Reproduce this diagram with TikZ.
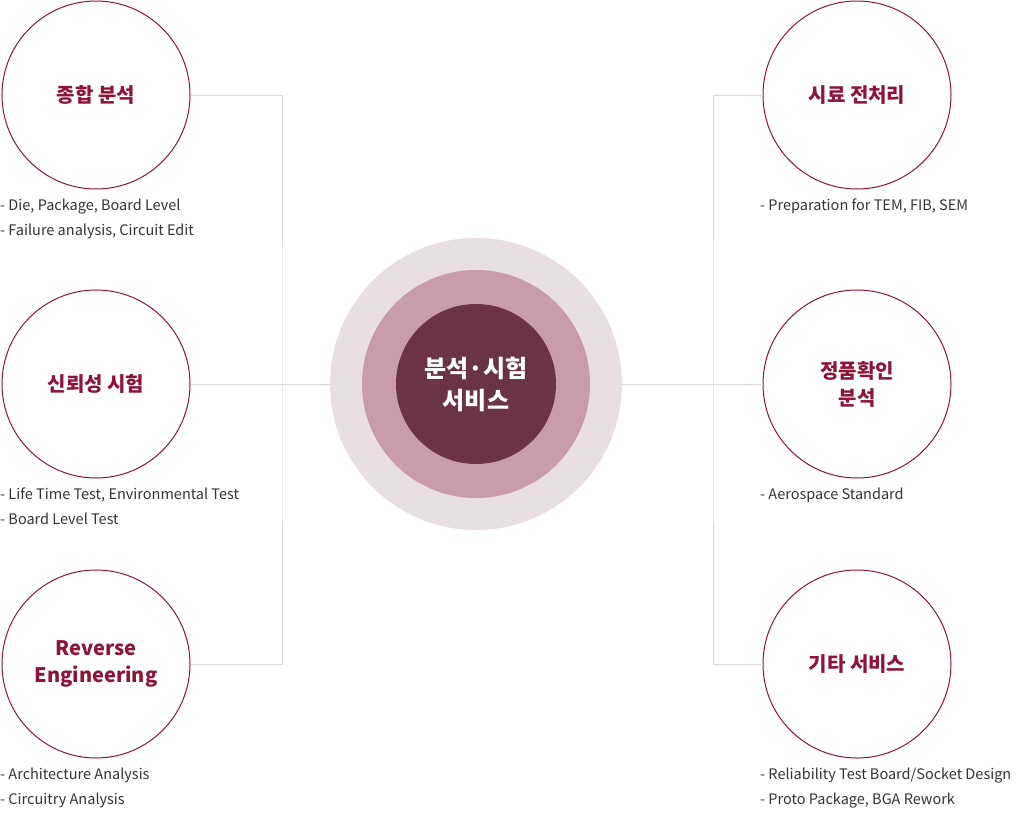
\documentclass[tikz,border=0pt]{standalone}
\usepackage{fontspec}
\setmainfont{Noto Sans CJK KR}
\usetikzlibrary{calc}
\definecolor{wine}{HTML}{8E1538}
\definecolor{ringA}{HTML}{E9DEE2}
\definecolor{ringB}{HTML}{C89CA8}
\definecolor{ringC}{HTML}{6A3444}
\definecolor{linegray}{HTML}{D9D9D9}
\definecolor{txtgray}{HTML}{333333}
\tikzset{
  svc/.style={circle, draw=wine, line width=1pt, minimum size=188pt, inner sep=0pt,
    align=center, text=wine, font=\fontsize{20}{27}\selectfont\bfseries},
  info/.style={anchor=north west, inner sep=0pt, align=left, text=txtgray,
    font=\fontsize{14.5}{25}\selectfont},
  link/.style={draw=linegray, line width=0.8pt}
}
\begin{document}
\begin{tikzpicture}[x=1pt,y=-1pt]
    \useasboundingbox (0,0) rectangle (1029,814);

    % Center
    \fill[ringA] (476,384) circle (146);
    \fill[ringB] (476,384) circle (114);
    \fill[ringC] (476,384) circle (80);
    \node[align=center, text=white, font=\fontsize{24}{32}\selectfont\bfseries] (core) at (476,384) {분석·시험\\서비스};
    \coordinate (coreL) at (330,384);
    \coordinate (coreR) at (622,384);

    % Left services
    \node[svc] (s1) at (96,95) {종합 분석};
    \node[svc] (s2) at (96,384) {신뢰성 시험};
    \node[svc] (s3) at (96,664) {Reverse\\Engineering};

    % Right services
    \node[svc] (s4) at (857,95) {시료 전처리};
    \node[svc] (s5) at (857,384) {정품확인\\분석};
    \node[svc] (s6) at (857,664) {기타 서비스};

    % Descriptions
    \node[info] (d1) at (0,199) {- Die, Package, Board Level\\- Failure analysis, Circuit Edit};
    \node[info] (d2) at (0,488) {- Life Time Test, Environmental Test\\- Board Level Test};
    \node[info] (d3) at (0,768) {- Architecture Analysis\\- Circuitry Analysis};
    \node[info] (d4) at (760,199) {- Preparation for TEM, FIB, SEM};
    \node[info] (d5) at (760,488) {- Aerospace Standard};
    \node[info] (d6) at (760,768) {- Reliability Test Board/Socket Design\\- Proto Package, BGA Rework};

    % Connectors
    \coordinate (lb) at (282,384);
    \coordinate (rb) at (713,384);
    \draw[link] (s1.east) -| (lb) |- (s3.east);
    \draw[link] (s2.east) -- (coreL);
    \draw[link] (s4.west) -| (rb) |- (s6.west);
    \draw[link] (s5.west) -- (coreR);
\end{tikzpicture}
\end{document}
